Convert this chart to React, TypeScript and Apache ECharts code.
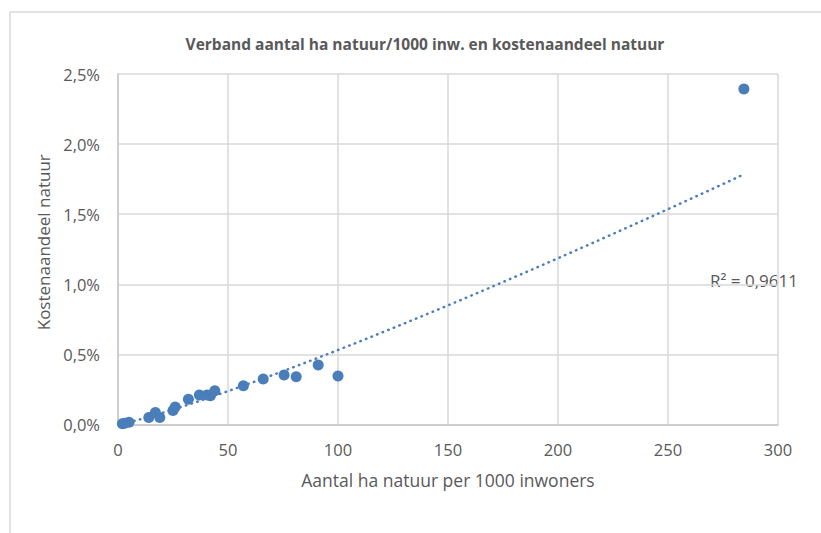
import React, { useEffect, useRef } from "react";
import * as echarts from "echarts";

const titleText = "Verband aantal ha natuur/1000 inw. en kostenaandeel natuur";
const xAxisTitle = "Aantal ha natuur per 1000 inwoners";
const yAxisTitle = "Kostenaandeel natuur";
const r2Label = "R² = 0,9611";

// ha natuur per 1000 inwoners
const haPer1000 = [2, 3, 5, 14, 17, 19, 25, 26, 32, 37, 40.5, 42, 44, 57, 66, 75.5, 81, 91, 100, 284.5];
// kostenaandeel natuur (%)
const kostenPct = [0.006, 0.009, 0.016, 0.05, 0.085, 0.05, 0.1, 0.125, 0.18, 0.21, 0.21, 0.205, 0.24, 0.277, 0.325, 0.353, 0.341, 0.424, 0.346, 2.393];

const xTicks = { min: 0, max: 300, interval: 50 };
const yTicks = { min: 0, max: 2.5, interval: 0.5 };

// power trendline y = a * x^b, least squares on ln x / ln y (as Excel does)
function powerFit(xs: number[], ys: number[]) {
  const n = xs.length;
  let sx = 0, sy = 0, sxx = 0, sxy = 0;
  for (let i = 0; i < n; i++) {
    const lx = Math.log(xs[i]);
    const ly = Math.log(ys[i]);
    sx += lx; sy += ly; sxx += lx * lx; sxy += lx * ly;
  }
  const b = (n * sxy - sx * sy) / (n * sxx - sx * sx);
  const lnA = (sy - b * sx) / n;
  return [Math.exp(lnA), b];
}

export default function App() {
  const ref = useRef<HTMLDivElement>(null);
  useEffect(() => {
    document.body.style.margin = "0";
    if (!ref.current) return;
    const chart = echarts.init(ref.current, undefined, { renderer: "svg" });
    const points = haPer1000.map((x, i) => [x, kostenPct[i]]);
    const [a, b] = powerFit(haPer1000, kostenPct);
    const xMin = Math.min(...haPer1000);
    const xMax = Math.max(...haPer1000);
    const trend: number[][] = [];
    const steps = 80;
    for (let i = 0; i <= steps; i++) {
      const x = xMin + ((xMax - xMin) * i) / steps;
      trend.push([x, a * Math.pow(x, b)]);
    }
    const font = "'Open Sans', 'Noto Sans', sans-serif";
    const grey = "#595959";
    chart.setOption({
      animation: false,
      backgroundColor: "#ffffff",
      textStyle: { fontFamily: font },
      title: {
        text: titleText,
        left: 420,
        top: 31,
        textAlign: "center",
        textStyle: { fontSize: 15.5, fontWeight: "bold", color: grey, fontFamily: font },
      },
      graphic: [
        {
          type: "rect",
          shape: { x: 10, y: 12, width: 900, height: 700 },
          style: { fill: "none", stroke: "#d9d9d9", lineWidth: 1.5 },
          silent: true,
        },
        {
          type: "text",
          x: 710,
          y: 280,
          style: {
            text: r2Label,
            fill: grey,
            fontSize: 17,
            fontFamily: font,
            textVerticalAlign: "middle",
          },
        },
      ],
      grid: { left: 118, right: 43, top: 74, bottom: 108.5 },
      xAxis: {
        type: "value",
        ...xTicks,
        name: xAxisTitle,
        nameLocation: "middle",
        nameGap: 46,
        nameTextStyle: { fontSize: 17.5, color: grey, fontFamily: font },
        axisLine: { show: true, lineStyle: { color: "#c8c8c8", width: 1.5 } },
        axisTick: { show: false },
        axisLabel: { margin: 16, fontSize: 16.5, color: grey, fontFamily: font },
        splitLine: { show: true, lineStyle: { color: "#d9d9d9", width: 1.5 } },
      },
      yAxis: {
        type: "value",
        ...yTicks,
        name: yAxisTitle,
        nameLocation: "middle",
        nameGap: 63,
        nameRotate: 90,
        nameTextStyle: { fontSize: 17, color: grey, fontFamily: font, padding: [0, 0, 0, 14] },
        axisLine: { show: true, lineStyle: { color: "#c8c8c8", width: 1.5 } },
        axisTick: { show: false },
        axisLabel: {
          margin: 18,
          fontSize: 16.5,
          color: grey,
          fontFamily: font,
          formatter: (v: number) => v.toFixed(1).replace(".", ",") + "%",
        },
        splitLine: { show: true, lineStyle: { color: "#d9d9d9", width: 1.5 } },
      },
      series: [
        {
          type: "line",
          data: trend,
          showSymbol: false,
          symbol: "none",
          silent: true,
          lineStyle: { color: "#4a7ebb", width: 2.5, type: [0.5, 5.5], cap: "round" },
          z: 2,
        },
        {
          type: "scatter",
          data: points,
          symbolSize: 11,
          itemStyle: { color: "#4a7ebb", opacity: 1 },
          z: 3,
        },
      ],
    });
    return () => chart.dispose();
  }, []);
  return <div ref={ref} style={{ width: 821, height: 533 }} />;
}
